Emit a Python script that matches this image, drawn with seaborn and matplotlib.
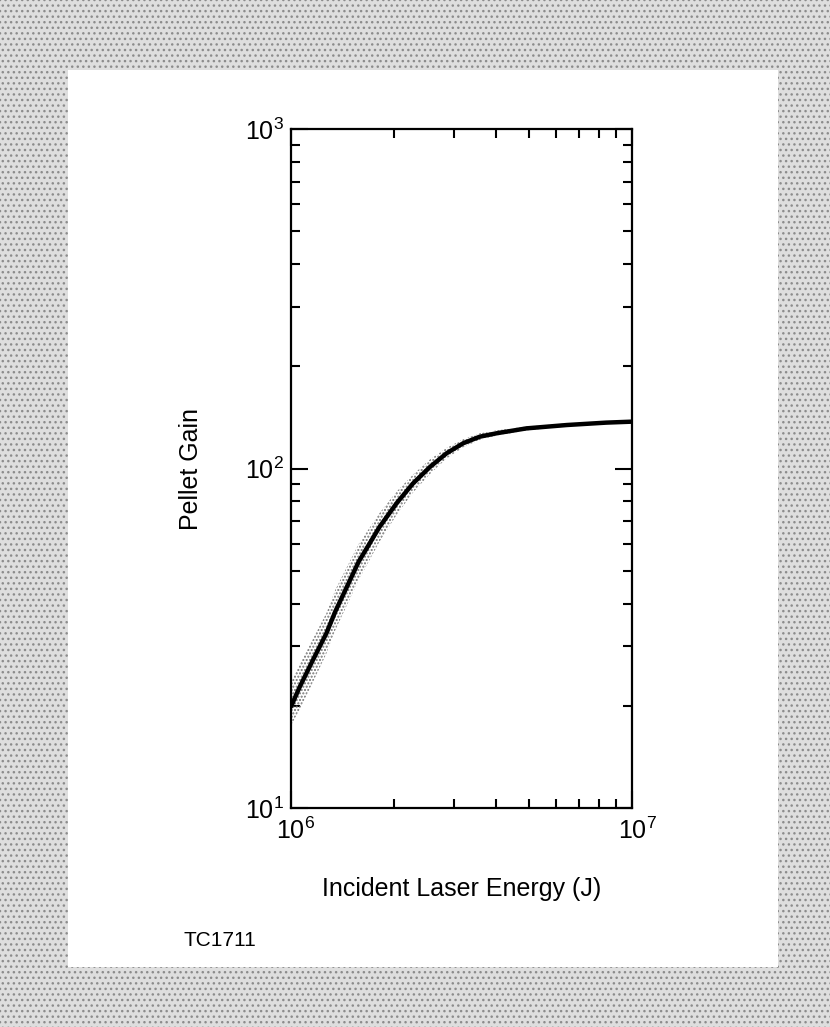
import numpy as np
import pandas as pd
import seaborn as sns
import matplotlib.pyplot as plt
import matplotlib.transforms as mtransforms
from matplotlib.patches import Rectangle
from matplotlib.ticker import LogLocator, NullFormatter, LogFormatterMathtext

# Values
energy = [1.00e6, 1.06e6, 1.16e6, 1.27e6, 1.35e6, 1.58e6, 1.82e6, 2.04e6, 2.28e6,
          2.56e6, 2.86e6, 3.20e6, 3.58e6, 4.01e6, 4.91e6, 6.44e6, 8.40e6, 1.00e7]
gain = [19.9, 22.7, 27.3, 32.7, 38.0, 53.2, 67.4, 79.0, 90.4,
        101.2, 110.9, 118.7, 124.1, 127.0, 131.3, 134.3, 136.5, 137.4]
# Stippled uncertainty band around the curve
band_lo = [17.5, 19.5, 23.5, 28.5, 33.5, 47.0, 61.0, 73.0, 85.0,
           96.5, 107.0, 115.5, 121.5, 125.0, 129.5, 133.0, 135.5, 136.5]
band_hi = [23.5, 26.5, 31.5, 37.5, 44.0, 60.0, 74.0, 85.5, 96.0,
           106.5, 115.0, 122.0, 127.0, 129.5, 133.0, 135.8, 137.8, 138.5]

df = pd.DataFrame({"energy": energy, "gain": gain})

sns.set_theme(style="white")
plt.rcParams['font.family'] = ['Liberation Sans', 'DejaVu Sans']
plt.rcParams['mathtext.fontset'] = 'custom'
plt.rcParams['mathtext.rm'] = 'Liberation Sans'
plt.rcParams['hatch.linewidth'] = 1.0

fig = plt.figure(figsize=(8.3, 10.27), dpi=100)

# stippled grey frame with white panel
fig.patches.append(Rectangle((0, 0), 1, 1, transform=fig.transFigure,
                             facecolor='#dedede', edgecolor='#8c8c8c',
                             hatch='...', linewidth=0, zorder=-10))
fig.patches.append(Rectangle((68 / 830, 1 - 967 / 1027), 710 / 830, 897 / 1027,
                             transform=fig.transFigure, facecolor='white',
                             edgecolor='none', zorder=-9))

ax = fig.add_axes([291 / 830, 1 - 808 / 1027, 341 / 830, 679 / 1027])
ax.set_facecolor('none')

ax.fill_between(energy, band_lo, band_hi, facecolor='none', edgecolor='#707070',
                hatch='.....', linewidth=0)
sns.lineplot(data=df, x="energy", y="gain", color='black', linewidth=3.2, ax=ax)

ax.set_xscale('log')
ax.set_yscale('log')
ax.set_xlim(1e6, 1e7)
ax.set_ylim(10, 1000)

ax.xaxis.set_major_locator(LogLocator(base=10))
ax.yaxis.set_major_locator(LogLocator(base=10))
ax.xaxis.set_minor_locator(LogLocator(base=10, subs=np.arange(2, 10)))
ax.yaxis.set_minor_locator(LogLocator(base=10, subs=np.arange(2, 10)))
ax.xaxis.set_major_formatter(LogFormatterMathtext())
ax.yaxis.set_major_formatter(LogFormatterMathtext())
ax.xaxis.set_minor_formatter(NullFormatter())
ax.yaxis.set_minor_formatter(NullFormatter())

ax.tick_params(which='both', direction='in', top=True, right=True, left=True,
               bottom=True, color='black', width=1.5, labelsize=18,
               labelcolor='black')
ax.tick_params(which='major', length=12, pad=5)
ax.tick_params(which='minor', length=6.5)
ax.tick_params(axis='x', which='major', pad=7)

for s in ax.spines.values():
    s.set_color('black')
    s.set_linewidth(1.6)

ax.set_xlabel("Incident Laser Energy (J)", fontsize=18, color='black', labelpad=24)
ax.set_ylabel("Pellet Gain", fontsize=18, color='black', labelpad=30)

# nudge tick labels like the original: x labels right, lowest y label up
shift_x = mtransforms.ScaledTranslation(5 / 100, 0, fig.dpi_scale_trans)
for lbl in ax.get_xticklabels():
    lbl.set_transform(lbl.get_transform() + shift_x)
ylabels = ax.get_yticklabels()
shift_y = mtransforms.ScaledTranslation(0, 5 / 100, fig.dpi_scale_trans)
ylabels[0].set_transform(ylabels[0].get_transform() + shift_y)

fig.text(183 / 830, 1 - 941 / 1027, "TC1711", fontsize=15, color='black',
         va='center', ha='left')

fig.savefig("out.png", dpi=100)
